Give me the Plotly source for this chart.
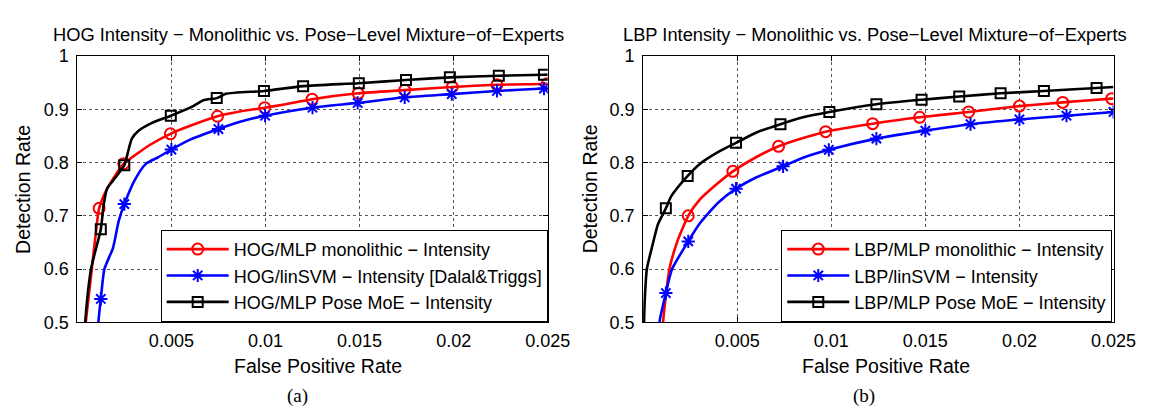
import plotly.graph_objects as go

W, H = 1154, 409

# ---------------- data ----------------
# (a) HOG
hog_mlp_x = [0.00032, 0.00045, 0.00077, 0.00096, 0.00116, 0.0015, 0.002, 0.00247, 0.003, 0.00385, 0.00495,
             0.006, 0.00745, 0.0085, 0.00996, 0.011, 0.01248, 0.01493, 0.0174, 0.01993, 0.0223, 0.02497, 0.025]
hog_mlp_y = [0.45, 0.5, 0.6, 0.66, 0.714, 0.745, 0.775, 0.798, 0.812, 0.833, 0.854,
             0.869, 0.887, 0.895, 0.903, 0.909, 0.919, 0.930, 0.936, 0.942, 0.946, 0.948, 0.9482]
hog_mlp_mk = [4, 7, 10, 12, 14, 16, 17, 18, 19, 20, 21]

hog_svm_x = [0.00105, 0.00112, 0.00125, 0.00144, 0.0019, 0.0022, 0.0025, 0.00308, 0.00366, 0.0043, 0.005,
             0.006, 0.0075, 0.0087, 0.00998, 0.0125, 0.0149, 0.0174, 0.0199, 0.0223, 0.0248, 0.025]
hog_svm_y = [0.45, 0.5, 0.544, 0.6, 0.64, 0.69, 0.722, 0.769, 0.798, 0.81, 0.8245,
             0.843, 0.863, 0.877, 0.888, 0.903, 0.912, 0.9225, 0.9285, 0.9345, 0.939, 0.9392]
hog_svm_mk = [2, 6, 10, 12, 14, 15, 16, 17, 18, 19, 20]

hog_moe_x = [0.00035, 0.00042, 0.00073, 0.00125, 0.0014, 0.00158, 0.0019, 0.0022, 0.0025, 0.0029, 0.00327,
             0.004, 0.00497, 0.00616, 0.0067, 0.00741, 0.0079, 0.00992, 0.012, 0.01496, 0.01747, 0.0198,
             0.0224, 0.0248, 0.025]
hog_moe_y = [0.45, 0.5, 0.6, 0.675, 0.72, 0.751, 0.766, 0.78, 0.795, 0.845, 0.86,
             0.875, 0.888, 0.906, 0.917, 0.921, 0.929, 0.9345, 0.9435, 0.949, 0.955, 0.96,
             0.963, 0.965, 0.9652]
hog_moe_mk = [3, 8, 12, 15, 17, 18, 19, 20, 21, 22, 23]

# (b) LBP
lbp_mlp_x = [0.00098, 0.00106, 0.0014, 0.0018, 0.0024, 0.003, 0.004, 0.00477, 0.006, 0.0072, 0.0085,
             0.0097, 0.0122, 0.0147, 0.0173, 0.02, 0.0223, 0.0249, 0.025]
lbp_mlp_y = [0.45, 0.5, 0.6, 0.65, 0.7, 0.73, 0.762, 0.7835, 0.81, 0.8305, 0.846,
             0.858, 0.873, 0.885, 0.895, 0.906, 0.913, 0.92, 0.9202]
lbp_mlp_mk = [4, 7, 9, 11, 12, 13, 14, 15, 16, 17]

lbp_svm_x = [0.0008, 0.00087, 0.00121, 0.00154, 0.0024, 0.003, 0.004, 0.00494, 0.006, 0.00744, 0.0085,
             0.00987, 0.0124, 0.015, 0.0174, 0.02, 0.0225, 0.025]
lbp_svm_y = [0.45, 0.5, 0.555, 0.6, 0.652, 0.685, 0.725, 0.751, 0.772, 0.793, 0.809,
             0.824, 0.845, 0.86, 0.872, 0.881, 0.888, 0.895]
lbp_svm_mk = [2, 4, 7, 9, 11, 12, 13, 14, 15, 16, 17]

lbp_moe_x = [0.00002, 0.00005, 0.0001, 0.0002, 0.0005, 0.0008, 0.00121, 0.0015, 0.00237, 0.003, 0.004,
             0.00494, 0.006, 0.0073, 0.0085, 0.0099, 0.0124, 0.0148, 0.0168, 0.019, 0.0213, 0.0241, 0.025]
lbp_moe_y = [0.45, 0.5, 0.55, 0.6, 0.645, 0.685, 0.714, 0.737, 0.775, 0.797, 0.82,
             0.837, 0.856, 0.872, 0.885, 0.895, 0.9095, 0.918, 0.924, 0.930, 0.9345, 0.940, 0.942]
lbp_moe_mk = [6, 8, 11, 13, 15, 16, 17, 18, 19, 20, 21]

x_ticks = [0.005, 0.01, 0.015, 0.02, 0.025]
x_tick_text = ["0.005", "0.01", "0.015", "0.02", "0.025"]
y_ticks = [0.5, 0.6, 0.7, 0.8, 0.9, 1.0]
y_tick_text = ["0.5", "0.6", "0.7", "0.8", "0.9", "1"]

titles = ["HOG Intensity \u2212 Monolithic vs. Pose\u2212Level Mixture\u2212of\u2212Experts",
          "LBP Intensity \u2212 Monolithic vs. Pose\u2212Level Mixture\u2212of\u2212Experts"]

panels = [
    [("HOG/MLP monolithic \u2212 Intensity", hog_mlp_x, hog_mlp_y, hog_mlp_mk, "#ff0000", "circle-open", 11),
     ("HOG/linSVM \u2212 Intensity [Dalal&Triggs]", hog_svm_x, hog_svm_y, hog_svm_mk, "#0000ff", "asterisk-open", 11),
     ("HOG/MLP Pose MoE \u2212 Intensity", hog_moe_x, hog_moe_y, hog_moe_mk, "#000000", "square-open", 10)],
    [("LBP/MLP monolithic \u2212 Intensity", lbp_mlp_x, lbp_mlp_y, lbp_mlp_mk, "#ff0000", "circle-open", 11),
     ("LBP/linSVM \u2212 Intensity", lbp_svm_x, lbp_svm_y, lbp_svm_mk, "#0000ff", "asterisk-open", 11),
     ("LBP/MLP Pose MoE \u2212 Intensity", lbp_moe_x, lbp_moe_y, lbp_moe_mk, "#000000", "square-open", 10)],
]

# ---------------- layout geometry (pixels) ----------------
ax_left = [70.7, 648.0]
ax_right = [550.7, 1128.0]
ax_top, ax_bot = 40.0, 320.0

FONT = "Liberation Sans, Arial, sans-serif"
fig = go.Figure()

for p, series in enumerate(panels):
    xa = "x" if p == 0 else "x2"
    ya = "y" if p == 0 else "y2"
    lg = "legend" if p == 0 else "legend2"
    for name, xs, ys, mk, col, sym, msz in series:
        fig.add_trace(go.Scatter(x=xs, y=ys, mode="lines", xaxis=xa, yaxis=ya,
                                 line=dict(color=col, width=2.6, shape="spline", smoothing=0.6),
                                 showlegend=False, hoverinfo="skip"))
        fig.add_trace(go.Scatter(x=[xs[i] for i in mk], y=[ys[i] for i in mk], mode="markers",
                                 xaxis=xa, yaxis=ya,
                                 marker=dict(symbol=sym, size=msz, color=col, line=dict(color=col, width=2)),
                                 showlegend=False, hoverinfo="skip"))
        fig.add_trace(go.Scatter(x=[None], y=[None], mode="lines+markers", xaxis=xa, yaxis=ya,
                                 name=name, legend=lg,
                                 line=dict(color=col, width=2.6),
                                 marker=dict(symbol=sym, size=msz, color=col, line=dict(color=col, width=2))))

axis_common = dict(ticks="inside", ticklen=5, tickwidth=1, tickcolor="black",
                   showline=True, linecolor="black", linewidth=1, mirror="ticks",
                   showgrid=True, gridcolor="#555555", griddash="dot", gridwidth=1,
                   zeroline=False, tickfont=dict(family=FONT, size=18, color="black"))

for p in range(2):
    sx = "" if p == 0 else "2"
    fig.update_layout({
        "xaxis" + sx: dict(axis_common, domain=[ax_left[p] / W, ax_right[p] / W], range=[0, 0.025],
                           tickvals=x_ticks, ticktext=x_tick_text, anchor="y" + sx, ticklabelstandoff=2),
        "yaxis" + sx: dict(axis_common, domain=[(H - ax_bot) / H, (H - ax_top) / H], range=[0.5, 1.0],
                           tickvals=y_ticks, ticktext=y_tick_text, anchor="x" + sx, ticklabelstandoff=4),
    })

legend_common = dict(bgcolor="white", bordercolor="black", borderwidth=1,
                     font=dict(family=FONT, size=18, color="black"),
                     xanchor="left", yanchor="bottom", itemwidth=62, tracegroupgap=0)
fig.update_layout(
    legend=dict(legend_common, x=155.8 / W, y=1 - 319.5 / H),
    legend2=dict(legend_common, x=789 / W, y=1 - 319.5 / H),
)

ann = []
title_cx = [307.0, 885.0]
xlab_cx = [316.0, 896.0]
ylab_cx = [15.0, 594.0]
sub_cx = [295.0, 873.0]
subs = ["(a)", "(b)"]
for p in range(2):
    ann.append(dict(text=titles[p], x=title_cx[p] / W, y=1 - 17 / H, xref="paper", yref="paper",
                    showarrow=False, xanchor="center", yanchor="middle",
                    font=dict(family=FONT, size=18.3, color="black")))
    ann.append(dict(text="False Positive Rate", x=xlab_cx[p] / W, y=1 - 366 / H, xref="paper", yref="paper",
                    showarrow=False, xanchor="center", yanchor="middle",
                    font=dict(family=FONT, size=19.5, color="black")))
    ann.append(dict(text="Detection Rate", x=ylab_cx[p] / W, y=1 - 180 / H, xref="paper", yref="paper",
                    showarrow=False, xanchor="center", yanchor="middle", textangle=-90,
                    font=dict(family=FONT, size=19.5, color="black")))
    ann.append(dict(text=subs[p], x=sub_cx[p] / W, y=1 - 397 / H, xref="paper", yref="paper",
                    showarrow=False, xanchor="center", yanchor="middle",
                    font=dict(family="Liberation Serif, Times New Roman, serif", size=19, color="black")))

fig.update_layout(width=W, height=H, margin=dict(l=0, r=0, t=0, b=0),
                  paper_bgcolor="white", plot_bgcolor="white", annotations=ann)

fig.write_html("out.html")
